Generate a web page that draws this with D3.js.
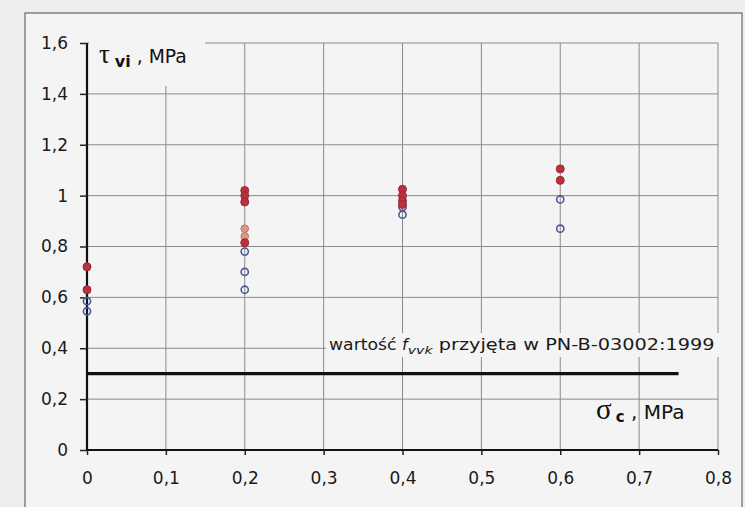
<!DOCTYPE html>
<html>
<head>
<meta charset="utf-8">
<script src="https://cdn.jsdelivr.net/npm/d3@7"></script>
<style>
    body { margin: 0; background: #ededed; }
    svg { display: block; font-family: "DejaVu Sans", Arial, sans-serif; }
</style>
</head>
<body>
<div id="chart"></div>
<script>

// measured points, sigma_c [MPa] vs tau_vi [MPa]
let redX   = [0, 0, 0.2, 0.2, 0.2, 0.2, 0.4, 0.4, 0.4, 0.4, 0.6, 0.6];
let redY   = [0.72, 0.63, 1.02, 1.0, 0.975, 0.815, 1.025, 1.0, 0.98, 0.965, 1.105, 1.06];
let paleX  = [0.2, 0.2];
let paleY  = [0.87, 0.84];
let blueX  = [0, 0, 0.2, 0.2, 0.2, 0.4, 0.4, 0.6, 0.6];
let blueY  = [0.585, 0.545, 0.78, 0.70, 0.63, 0.955, 0.925, 0.985, 0.87];

// reference value from the code
let refX = [0, 0.75];
let refY = [0.3, 0.3];

let xTicks = [0, 0.1, 0.2, 0.3, 0.4, 0.5, 0.6, 0.7, 0.8];
let yTicks = [0, 0.2, 0.4, 0.6, 0.8, 1.0, 1.2, 1.4, 1.6];

let width = 745, height = 507;

let svg = d3.select("#chart").append("svg")
    .attr("width", width)
    .attr("height", height);

// outer frame
svg.append("rect")
    .attr("x", 25).attr("y", 13)
    .attr("width", 717).attr("height", 520)
    .attr("fill", "#f4f4f4")
    .attr("stroke", "#666")
    .attr("stroke-width", 1.2);

let x = d3.scaleLinear().domain([0, 0.8]).range([87, 718]);
let y = d3.scaleLinear().domain([0, 1.6]).range([450, 43]);

let fmt = d => String(+d.toFixed(1)).replace(".", ",");

// gridlines
svg.append("g").selectAll("line.h")
    .data(yTicks.filter(d => d > 0))
    .join("line")
    .attr("x1", x(0)).attr("x2", x(0.8))
    .attr("y1", d => y(d)).attr("y2", d => y(d))
    .attr("stroke", "#8a8a8a").attr("stroke-width", 1);

svg.append("g").selectAll("line.v")
    .data(xTicks.filter(d => d > 0))
    .join("line")
    .attr("x1", d => x(d)).attr("x2", d => x(d))
    .attr("y1", y(1.6)).attr("y2", y(0))
    .attr("stroke", "#8a8a8a").attr("stroke-width", 1);

// axes
let yAxis = d3.axisLeft(y).tickValues(yTicks).tickFormat(fmt).tickSize(7).tickPadding(12);
let xAxis = d3.axisBottom(x).tickValues(xTicks).tickFormat(fmt).tickSize(5).tickPadding(17);

let gy = svg.append("g").attr("transform", "translate(" + x(0) + ",0)").call(yAxis);
let gx = svg.append("g").attr("transform", "translate(0," + y(0) + ")").call(xAxis);

[gx, gy].forEach(g => {
    g.select(".domain").attr("stroke", "#111").attr("stroke-width", 2.2);
    g.selectAll(".tick line").attr("stroke", "#222").attr("stroke-width", 1.5);
    g.selectAll("text").attr("font-size", 17).attr("fill", "#1a1a1a")
        .attr("font-family", "DejaVu Sans, Arial, sans-serif");
});
gx.select(".domain").attr("d", "M" + x(0) + ",0H" + x(0.8));
gy.select(".domain").attr("d", "M0," + y(1.6) + "V" + y(0));

// label boxes hide the grid behind them
svg.append("rect").attr("x", 89).attr("y", 36).attr("width", 116).attr("height", 50).attr("fill", "#f4f4f4");
svg.append("rect").attr("x", 326).attr("y", 333).attr("width", 394).attr("height", 24).attr("fill", "#f4f4f4");

// reference line
svg.append("path")
    .datum(d3.zip(refX, refY))
    .attr("d", d3.line().x(d => x(d[0])).y(d => y(d[1])))
    .attr("stroke", "#111").attr("stroke-width", 3.2).attr("fill", "none");

let label = svg.append("text")
    .attr("x", 329).attr("y", 350)
    .attr("font-size", 16).attr("fill", "#1a1a1a");
label.append("tspan").attr("textLength", 73).attr("lengthAdjust", "spacingAndGlyphs").text("wartość ");
label.append("tspan").attr("font-style", "italic").text("f");
label.append("tspan").attr("font-style", "italic").attr("font-size", 11).attr("dy", 4)
    .attr("textLength", 25).attr("lengthAdjust", "spacingAndGlyphs").text("vvk");
label.append("tspan").attr("dy", -4).attr("textLength", 282).attr("lengthAdjust", "spacingAndGlyphs")
    .text(" przyjęta w PN-B-03002:1999");

// axis titles
let yt = svg.append("text").attr("x", 99).attr("y", 63).attr("fill", "#111");
yt.append("tspan").attr("font-size", 27).attr("font-family", "Liberation Serif, serif").text("τ");
yt.append("tspan").attr("font-size", 16).attr("font-weight", "bold").attr("dx", 5).attr("dy", 4).text("vi");
yt.append("tspan").attr("font-size", 19).attr("dy", -4).attr("textLength", 56)
    .attr("lengthAdjust", "spacingAndGlyphs").text(" , MPa");

let xt = svg.append("text").attr("x", 596).attr("y", 419).attr("fill", "#111");
xt.append("tspan").attr("font-size", 29).attr("font-family", "Liberation Serif, serif").text("σ");
xt.append("tspan").attr("font-size", 15).attr("font-weight", "bold").attr("dx", 4).attr("dy", 3).text("c");
xt.append("tspan").attr("font-size", 19).attr("dy", -3).attr("textLength", 60)
    .attr("lengthAdjust", "spacingAndGlyphs").text(" , MPa");

// points
svg.append("g").selectAll("circle")
    .data(d3.zip(blueX, blueY))
    .join("circle")
    .attr("cx", d => x(d[0])).attr("cy", d => y(d[1]))
    .attr("r", 3.6)
    .attr("fill", "none").attr("stroke", "#4b5b95").attr("stroke-width", 1.6);

svg.append("g").selectAll("circle")
    .data(d3.zip(paleX, paleY))
    .join("circle")
    .attr("cx", d => x(d[0])).attr("cy", d => y(d[1]))
    .attr("r", 3.8)
    .attr("fill", "#dc9a84").attr("stroke", "#c76e5e").attr("stroke-width", 1);

svg.append("g").selectAll("circle")
    .data(d3.zip(redX, redY))
    .join("circle")
    .attr("cx", d => x(d[0])).attr("cy", d => y(d[1]))
    .attr("r", 4)
    .attr("fill", "#b8323c").attr("stroke", "#9c2631").attr("stroke-width", 1);

</script>
</body>
</html>
